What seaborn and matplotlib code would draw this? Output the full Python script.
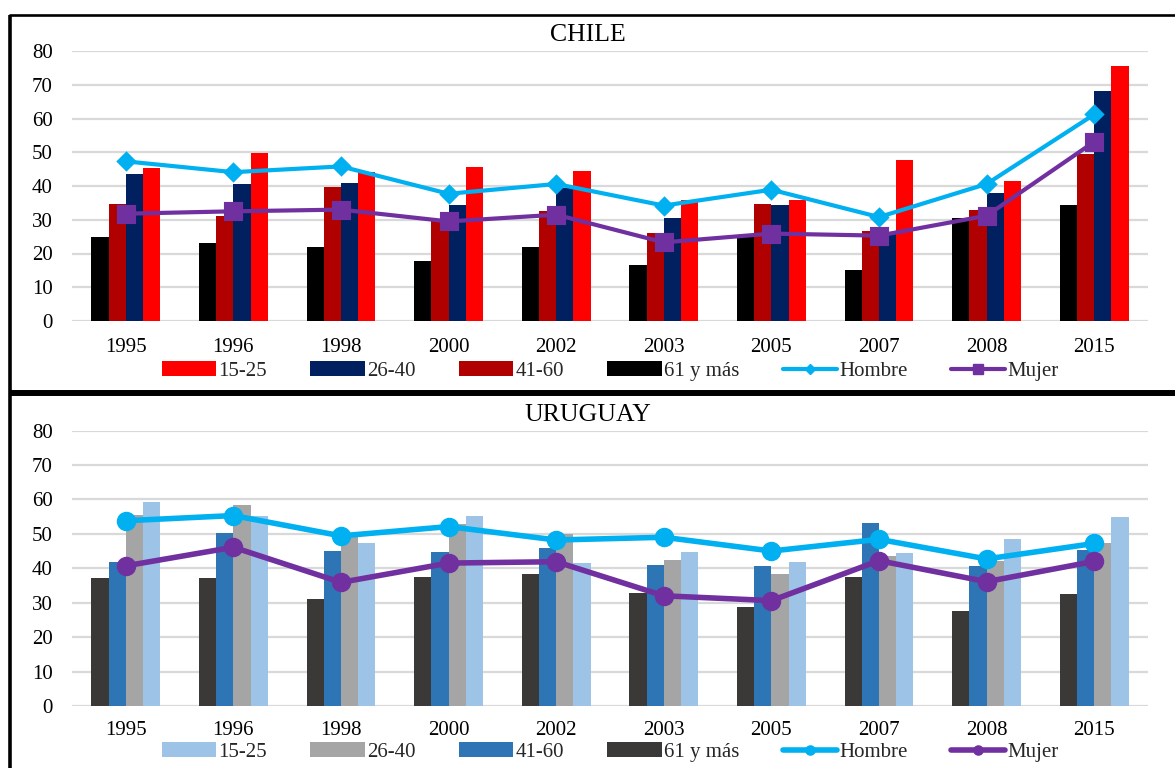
import matplotlib
matplotlib.use("Agg")
import matplotlib.pyplot as plt
from matplotlib.lines import Line2D
from matplotlib.patches import Patch
import seaborn as sns
import pandas as pd

# Survey years shared by both countries
years = ["1995", "1996", "1998", "2000", "2002", "2003", "2005", "2007", "2008", "2015"]
age_groups = ["15-25", "26-40", "41-60", "61 y más"]

# Chile (percent)
chile_15_25 = [45.4, 49.9, 44.2, 45.6, 44.3, 35.9, 35.9, 47.6, 41.5, 75.6]
chile_26_40 = [43.7, 40.6, 40.9, 34.5, 39.5, 30.5, 34.3, 26.0, 37.9, 68.2]
chile_41_60 = [34.8, 31.1, 39.6, 29.8, 32.7, 26.2, 34.6, 26.7, 32.9, 49.6]
chile_61_mas = [25.0, 23.2, 21.9, 17.9, 21.8, 16.7, 24.9, 15.2, 30.4, 34.4]
chile_hombre = [47.3, 44.1, 45.8, 37.7, 40.6, 34.2, 38.9, 30.8, 40.6, 61.2]
chile_mujer = [31.8, 32.5, 33.0, 29.5, 31.5, 23.3, 25.9, 25.3, 31.2, 53.1]

# Uruguay (percent)
uy_15_25 = [59.3, 55.2, 47.3, 55.2, 41.5, 44.7, 41.7, 44.5, 48.4, 54.8]
uy_26_40 = [55.5, 58.3, 49.2, 52.8, 49.9, 42.5, 38.2, 43.5, 42.2, 47.4]
uy_41_60 = [41.7, 50.1, 45.1, 44.6, 46.0, 40.8, 40.7, 53.1, 40.7, 45.4]
uy_61_mas = [37.1, 37.3, 31.2, 37.5, 38.3, 32.8, 28.7, 37.5, 27.7, 32.6]
uy_hombre = [53.8, 55.3, 49.4, 52.1, 48.2, 49.0, 45.0, 48.4, 42.7, 47.2]
uy_mujer = [40.7, 46.1, 35.9, 41.5, 41.9, 32.0, 30.6, 42.2, 36.1, 42.0]

chile_colors = {"15-25": "#FF0000", "26-40": "#002060", "41-60": "#B00000", "61 y más": "#000000"}
uy_colors = {"15-25": "#9DC3E6", "26-40": "#A5A5A5", "41-60": "#2E75B6", "61 y más": "#3B3838"}
hombre_color = "#00B0F0"
mujer_color = "#7030A0"

sns.set_style("white")
plt.rcParams["font.family"] = ["Liberation Serif", "DejaVu Serif"]
FS = 15

fig = plt.figure(figsize=(11.75, 7.68), dpi=100)
ax_cl = fig.add_axes([72 / 1175, 1 - 321 / 768, 1076 / 1175, 270 / 768])
ax_uy = fig.add_axes([72 / 1175, 1 - 706 / 768, 1076 / 1175, 275.5 / 768])

# bars are drawn oldest age group on the left
bar_order = ["61 y más", "41-60", "26-40", "15-25"]


def long_table(series):
    rows = []
    for grp, vals in series.items():
        for yr, v in zip(years, vals):
            rows.append({"year": yr, "grupo": grp, "valor": v})
    return pd.DataFrame(rows)


def draw_panel(ax, series, colors, hombre, mujer, h_marker, m_marker, h_ms, m_ms, lw,
               title, title_y, legend_y, tick_pad):
    df = long_table(series)
    sns.barplot(data=df, x="year", y="valor", hue="grupo", order=years,
                hue_order=bar_order, palette=colors, saturation=1, width=0.64,
                dodge=True, linewidth=0, errorbar=None, legend=False, ax=ax)
    sns.pointplot(x=years, y=hombre, order=years, color=hombre_color, markers=h_marker,
                  markersize=h_ms, linewidth=lw, errorbar=None, ax=ax)
    sns.pointplot(x=years, y=mujer, order=years, color=mujer_color, markers=m_marker,
                  markersize=m_ms, linewidth=lw, errorbar=None, ax=ax)

    ax.set_xlim(-0.5, len(years) - 0.5)
    ax.set_ylim(0, 80)
    ax.set_yticks(range(0, 81, 10))
    ax.set_xlabel("")
    ax.set_ylabel("")
    ax.set_axisbelow(True)
    ax.yaxis.grid(True, color="#D9D9D9", linewidth=1.6)
    ax.xaxis.grid(False)
    for s in ax.spines.values():
        s.set_visible(False)
    ax.tick_params(axis="y", length=0, pad=14, labelsize=FS, labelcolor="black")
    ax.tick_params(axis="x", length=0, pad=tick_pad, labelsize=FS, labelcolor="black")

    fig.text(0.5, title_y, title, ha="center", va="center", fontsize=18.5, color="black")

    handles = [Patch(facecolor=colors[g], edgecolor="none") for g in age_groups]
    handles.append(Line2D([], [], color=hombre_color, lw=lw, marker=h_marker,
                          markersize=h_ms * 0.6))
    handles.append(Line2D([], [], color=mujer_color, lw=lw, marker=m_marker,
                          markersize=m_ms * 0.6))
    labels = age_groups + ["Hombre", "Mujer"]
    ax.legend(handles, labels, loc="center", bbox_to_anchor=(0.5195, legend_y),
              bbox_transform=fig.transFigure, ncol=6, frameon=False, fontsize=FS,
              handlelength=2.6, handletextpad=0.12, columnspacing=2.08,
              borderaxespad=0, borderpad=0)


draw_panel(ax_cl,
           {"15-25": chile_15_25, "26-40": chile_26_40, "41-60": chile_41_60, "61 y más": chile_61_mas},
           chile_colors, chile_hombre, chile_mujer, "D", "s", 8.2, 12, 3.0,
           "CHILE", 1 - 35 / 768, 1 - 371 / 768, 12)
draw_panel(ax_uy,
           {"15-25": uy_15_25, "26-40": uy_26_40, "41-60": uy_41_60, "61 y más": uy_61_mas},
           uy_colors, uy_hombre, uy_mujer, "o", "o", 11, 11, 4.0,
           "URUGUAY", 1 - 415 / 768, 1 - 752 / 768, 11)

# panel frames
fig.add_artist(Line2D([9 / 1175, 1], [1 - 15 / 768, 1 - 15 / 768], transform=fig.transFigure,
                      color="black", lw=1.9, solid_capstyle="butt"))
fig.add_artist(Line2D([10 / 1175, 10 / 1175], [1 - 15 / 768, 0], transform=fig.transFigure,
                      color="black", lw=2.6, solid_capstyle="butt"))
fig.add_artist(Line2D([9 / 1175, 1], [1 - 393 / 768, 1 - 393 / 768], transform=fig.transFigure,
                      color="black", lw=4.3, solid_capstyle="butt"))

fig.savefig("out.png", dpi=100)
